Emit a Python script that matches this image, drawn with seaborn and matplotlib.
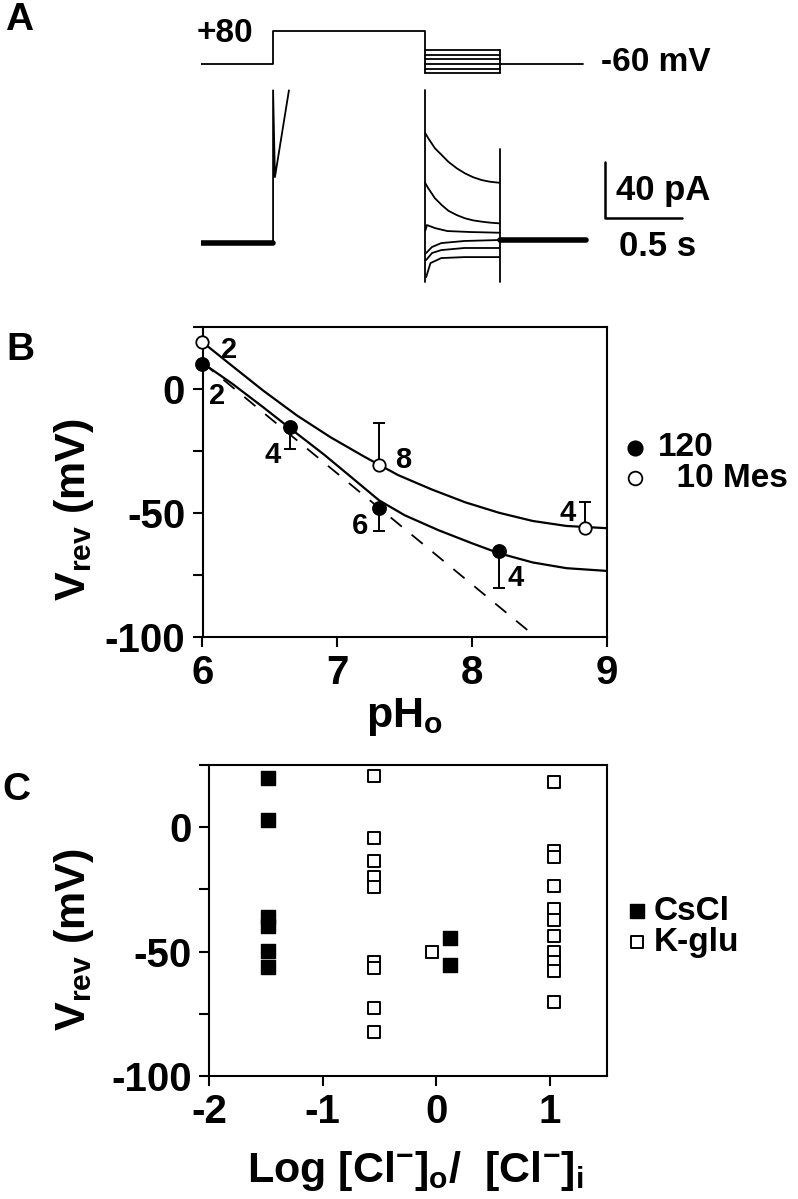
import matplotlib
matplotlib.use("Agg")
import matplotlib.pyplot as plt
import seaborn as sns

# ---------------- Panel A : voltage protocol (s, mV) ----------------
hold_mv = -60
step_mv = 80
tail_mv = [0, -20, -40, -60, -80, -100]
t_step_on = 0.468
t_step_off = 1.455
t_tail_off = 1.94
t_end_v = 2.48

# ---------------- Panel A : current traces (s, pA) ----------------
pre_t = [0.0, 0.468]
pre_pA = [-1.2, -1.2]
onset_t = [0.468, 0.468, 0.48, 0.571]
onset_pA = [-1.2, 108.0, 46.0, 108.0]
tail_edge_top_pA = 108.0
tail_edge_bottom_pA = -29.0
tail_end_top_pA = 66.0
post_t = [1.94, 2.50]
post_pA = [1.0, 1.0]

t_tr1 = [1.455, 1.476, 1.498, 1.519, 1.563, 1.606, 1.661, 1.714, 1.768, 1.823, 1.877, 1.937]
i_tr1 = [77.7, 73.7, 70.1, 66.6, 61.8, 57.0, 52.3, 48.7, 45.9, 43.9, 42.7, 42.0]
t_tr2 = [1.455, 1.476, 1.498, 1.519, 1.563, 1.606, 1.661, 1.714, 1.768, 1.823, 1.877, 1.937]
i_tr2 = [42.0, 38.0, 34.4, 30.9, 26.1, 22.0, 18.9, 16.6, 15.1, 14.2, 13.5, 13.0]
t_tr3 = [1.458, 1.467, 1.52, 1.60, 1.75, 1.937]
i_tr3 = [8.2, 11.8, 9.6, 7.5, 6.8, 6.3]
t_tr4 = [1.462, 1.50, 1.56, 1.71, 1.937]
i_tr4 = [-8.2, -3.9, -1.1, 0.4, 1.1]
t_tr5 = [1.462, 1.50, 1.56, 1.71, 1.937]
i_tr5 = [-13.2, -8.2, -6.1, -4.6, -4.6]
t_tr6 = [1.462, 1.49, 1.56, 1.71, 1.937]
i_tr6 = [-25.4, -15.4, -11.8, -11.1, -11.1]

bar_t0 = 2.623
bar_len_s = 0.5
bar_i0 = 16.8
bar_len_pA = 40

# ---------------- Panel B : Vrev vs pHo ----------------
ph_120 = [6.0, 6.65, 7.31, 8.2]
v_120 = [10.1, -15.5, -48.2, -65.2]
err_120 = [0.0, 8.8, 9.2, 14.9]          # downward SEM
n_120 = ["2", "4", "6", "4"]
ph_mes = [6.0, 7.31, 8.84]
v_mes = [18.7, -30.6, -56.2]
err_mes = [6.3, 16.8, 10.5]              # upward SEM
n_mes = ["2", "8", "4"]

fit_ph_mes = [6.0, 6.2, 6.45, 6.7, 6.95, 7.2, 7.45, 7.7, 7.95, 8.2, 8.45, 8.7, 9.0]
fit_v_mes = [18.7, 10.0, -0.8, -10.8, -19.6, -27.4, -34.8, -40.6, -45.8, -50.0, -53.3, -55.3, -56.2]
fit_ph_120 = [6.0, 6.22, 6.45, 6.65, 6.9, 7.1, 7.31, 7.5, 7.75, 8.0, 8.2, 8.45, 8.7, 9.0]
fit_v_120 = [10.3, 2.0, -7.5, -16.0, -26.5, -35.5, -45.0, -51.0, -57.0, -62.3, -66.3, -70.0, -72.3, -73.4]
nernst_ph = [6.0, 8.45]
nernst_v = [10.5, -99.0]

# ---------------- Panel C : Vrev vs log ratio ----------------
x_cscl = [-1.48, -1.48, -1.48, -1.48, -1.48, -1.48, 0.12, 0.12]
v_cscl = [19.6, 2.7, -36.1, -39.8, -49.9, -56.2, -44.5, -55.3]
x_kglu = [-0.55] * 9 + [-0.035] + [1.04] * 11
v_kglu = [20.5, -4.3, -13.7, -20.0, -24.1, -54.2, -56.5, -72.7, -82.5,
          -50.1,
          18.3, -9.7, -12.1, -23.7, -32.8, -37.1, -43.6, -50.0, -54.3, -57.7, -70.3]

yticks = [25, 0, -25, -50, -75, -100]
ytick_labels = ["", "0", "", "-50", "", "-100"]
xticks_B = [6, 7, 8, 9]
xticks_C = [-2, -1, 0, 1]
xtick_labels_C = ["-2", "-1", "0", "1"]

# ---------------- style ----------------
sns.set_theme(style="white")
plt.rcParams["font.family"] = ["Liberation Sans", "DejaVu Sans"]
plt.rcParams["font.weight"] = "bold"
plt.rcParams["axes.labelweight"] = "bold"
plt.rcParams["text.color"] = "black"
plt.rcParams["axes.labelcolor"] = "black"
plt.rcParams["xtick.color"] = "black"
plt.rcParams["ytick.color"] = "black"
plt.rcParams["mathtext.fontset"] = "custom"
plt.rcParams["mathtext.rm"] = "Liberation Sans:bold"
plt.rcParams["mathtext.bf"] = "Liberation Sans:bold"
plt.rcParams["mathtext.it"] = "Liberation Sans:bold"
plt.rcParams["mathtext.default"] = "bf"
plt.rcParams["axes.linewidth"] = 1.5
plt.rcParams["axes.edgecolor"] = "black"

W, H = 798, 1199
fig = plt.figure(figsize=(W / 100, H / 100), dpi=100)


def box(l, t, r, b):
    return [l / W, 1 - b / H, (r - l) / W, (b - t) / H]


K = "black"
TICK_FS = 29
LAB_FS = 31

# ---------------- Panel A ----------------
axV = fig.add_axes(box(201, 20, 740, 80))
axI = fig.add_axes(box(201, 85, 740, 290))
for a in (axV, axI):
    a.set_xlim(0, 3.5)
    a.axis("off")
axV.set_ylim(-127.8, 126.4)
axI.set_ylim(-34.6, 111.8)

lw_v = 1.3
sns.lineplot(x=[0, t_step_on, t_step_on, t_step_off, t_step_off],
             y=[hold_mv, hold_mv, step_mv, step_mv, min(tail_mv)],
             ax=axV, color=K, lw=lw_v, estimator=None, sort=False)
for v in tail_mv:
    sns.lineplot(x=[t_step_off, t_tail_off], y=[v, v], ax=axV, color=K, lw=lw_v,
                 estimator=None, sort=False)
sns.lineplot(x=[t_tail_off, t_tail_off], y=[max(tail_mv), min(tail_mv)], ax=axV,
             color=K, lw=lw_v, estimator=None, sort=False)
sns.lineplot(x=[t_tail_off, t_end_v], y=[hold_mv, hold_mv], ax=axV, color=K, lw=lw_v,
             estimator=None, sort=False)
axV.text(0.338, 71, "+80", ha="right", va="center", fontsize=24, fontweight="bold", color=K)
axV.text(2.597, -52, "-60 mV", ha="left", va="center", fontsize=24, fontweight="bold", color=K)

lw_i = 1.3
sns.lineplot(x=pre_t, y=pre_pA, ax=axI, color=K, lw=4, estimator=None, sort=False)
sns.lineplot(x=post_t, y=post_pA, ax=axI, color=K, lw=4, estimator=None, sort=False)
sns.lineplot(x=onset_t, y=onset_pA, ax=axI, color=K, lw=lw_i, estimator=None, sort=False)
sns.lineplot(x=[t_step_off, t_step_off], y=[tail_edge_top_pA, tail_edge_bottom_pA], ax=axI,
             color=K, lw=lw_i, estimator=None, sort=False)
sns.lineplot(x=[t_tail_off, t_tail_off], y=[tail_end_top_pA, tail_edge_bottom_pA], ax=axI,
             color=K, lw=lw_i, estimator=None, sort=False)
for tt, ii in [(t_tr1, i_tr1), (t_tr2, i_tr2), (t_tr3, i_tr3),
               (t_tr4, i_tr4), (t_tr5, i_tr5), (t_tr6, i_tr6)]:
    sns.lineplot(x=tt, y=ii, ax=axI, color=K, lw=lw_i, estimator=None, sort=False)
# scale bar
sns.lineplot(x=[bar_t0, bar_t0, bar_t0 + bar_len_s],
             y=[bar_i0 + bar_len_pA, bar_i0, bar_i0], ax=axI, color=K, lw=1.8,
             estimator=None, sort=False)
axI.text(2.695, 36.8, f"{bar_len_pA} pA", ha="left", va="center", fontsize=25,
         fontweight="bold", color=K)
axI.text(2.714, -3.2, f"{bar_len_s} s", ha="left", va="center", fontsize=25,
         fontweight="bold", color=K)

# ---------------- Panel B ----------------
axB = fig.add_axes(box(202.5, 326.5, 607, 637))
sns.lineplot(x=fit_ph_mes, y=fit_v_mes, ax=axB, color=K, lw=1.6, estimator=None, sort=False)
sns.lineplot(x=fit_ph_120, y=fit_v_120, ax=axB, color=K, lw=1.6, estimator=None, sort=False)
sns.lineplot(x=nernst_ph, y=nernst_v, ax=axB, color=K, lw=1.3, estimator=None, sort=False)
axB.lines[-1].set_dashes([8, 7])
axB.errorbar(ph_120, v_120, yerr=[err_120, [0] * len(err_120)], fmt="none", ecolor=K,
             elinewidth=1.4, capsize=4.5, capthick=1.4, zorder=3)
axB.errorbar(ph_mes, v_mes, yerr=[[0] * len(err_mes), err_mes], fmt="none", ecolor=K,
             elinewidth=1.4, capsize=4.5, capthick=1.4, zorder=3)
sns.scatterplot(x=ph_120, y=v_120, ax=axB, marker="o", s=90, color=K, edgecolor=K,
                linewidth=1.2, zorder=4, clip_on=False, label="120")
sns.scatterplot(x=ph_mes, y=v_mes, ax=axB, marker="o", s=80, facecolor="white",
                edgecolor=K, linewidth=1.3, zorder=4, clip_on=False, label="  10 Mes")
off_120 = [(0.11, -12.9), (-0.13, -11.2), (-0.14, -7.3), (0.12, -11.1)]
off_mes = [(0.2, -3.0), (0.18, 1.8), (-0.13, 6.3)]
for (x, y, n), (dx, dy) in zip(zip(ph_120, v_120, n_120), off_120):
    axB.text(x + dx, y + dy, n, ha="center", va="center", fontsize=21,
             fontweight="bold", color=K)
for (x, y, n), (dx, dy) in zip(zip(ph_mes, v_mes, n_mes), off_mes):
    axB.text(x + dx, y + dy, n, ha="center", va="center", fontsize=21,
             fontweight="bold", color=K)
axB.set_xlim(6, 9)
axB.set_ylim(-100, 25)
axB.set_xticks(xticks_B)
axB.set_xticklabels([str(v) for v in xticks_B])
axB.set_yticks(yticks)
axB.set_yticklabels(ytick_labels)
axB.set_xlabel("pH$_{o}$", fontsize=LAB_FS, fontweight="bold", color=K)
axB.set_ylabel("V$_{rev}$ (mV)", fontsize=LAB_FS, fontweight="bold", color=K)
axB.xaxis.set_label_coords(0.5, -0.19)
axB.yaxis.set_label_coords(-0.263, 0.41)
hB, lB = axB.get_legend_handles_labels()
legB = axB.legend(hB, lB, loc="center left", bbox_to_anchor=(625 / W, 1 - 463 / H),
                  bbox_transform=fig.transFigure, frameon=False, fontsize=24,
                  handlelength=0.6, handletextpad=0.4, labelspacing=-0.02,
                  borderpad=0, borderaxespad=0, markerscale=1.1)
for t in legB.get_texts():
    t.set_fontweight("bold")
    t.set_color(K)

# ---------------- Panel C ----------------
axC = fig.add_axes(box(209, 765, 606.7, 1076))
sns.scatterplot(x=x_cscl, y=v_cscl, ax=axC, marker="s", s=90, color=K, edgecolor=K,
                linewidth=1.0, zorder=4, label="CsCl")
sns.scatterplot(x=x_kglu, y=v_kglu, ax=axC, marker="s", s=80, facecolor="white",
                edgecolor=K, linewidth=1.4, zorder=4, label="K-glu")
axC.set_xlim(-2, 1.5)
axC.set_ylim(-100, 25)
axC.set_xticks(xticks_C)
axC.set_xticklabels(xtick_labels_C)
axC.set_yticks(yticks)
axC.set_yticklabels(ytick_labels)
axC.set_xlabel("Log [Cl$^{-}$]$_{o}$/  [Cl$^{-}$]$_{i}$", fontsize=LAB_FS,
               fontweight="bold", color=K)
axC.set_ylabel("V$_{rev}$ (mV)", fontsize=LAB_FS, fontweight="bold", color=K)
axC.xaxis.set_label_coords(0.52, -0.235)
axC.yaxis.set_label_coords(-0.284, 0.44)
hC, lC = axC.get_legend_handles_labels()
legC = axC.legend(hC, lC, loc="center left", bbox_to_anchor=(627 / W, 1 - 927 / H),
                  bbox_transform=fig.transFigure, frameon=False, fontsize=24,
                  handlelength=0.6, handletextpad=0.21, labelspacing=0.0,
                  borderpad=0, borderaxespad=0)
for t in legC.get_texts():
    t.set_fontweight("bold")
    t.set_color(K)

for a in (axB, axC):
    for s in a.spines.values():
        s.set_visible(True)
        s.set_color(K)
        s.set_linewidth(1.5)
    a.tick_params(direction="out", length=7.5, width=1.5, colors=K,
                  labelsize=TICK_FS, pad=5, left=True, bottom=True)
    for lab in a.get_xticklabels() + a.get_yticklabels():
        lab.set_fontweight("bold")
        lab.set_color(K)
    a.grid(False)

# panel letters
fig.text(5 / W, 1 - 20 / H, "A", fontsize=28, ha="left", va="center", fontweight="bold", color=K)
fig.text(6 / W, 1 - 350 / H, "B", fontsize=28, ha="left", va="center", fontweight="bold", color=K)
fig.text(2 / W, 1 - 790 / H, "C", fontsize=28, ha="left", va="center", fontweight="bold", color=K)

fig.savefig("out.png", dpi=100)
